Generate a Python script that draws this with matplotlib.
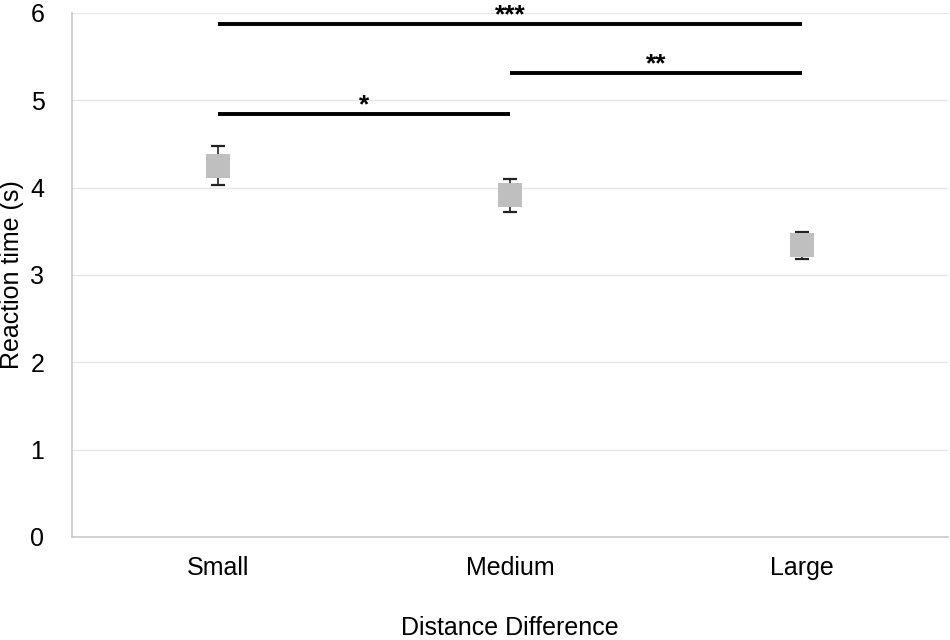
import matplotlib.pyplot as plt
import numpy as np

plt.rcParams['font.family'] = ['Liberation Sans', 'DejaVu Sans']

categories = ['Small', 'Medium', 'Large']
means = [4.25, 3.91, 3.34]
errors = [0.22, 0.19, 0.155]

# significance brackets: (from index, to index, height, label)
sig_from = [0, 1, 0]
sig_to = [1, 2, 2]
sig_y = [4.84, 5.31, 5.87]
sig_labels = ['*', '**', '***']

fig = plt.figure(figsize=(9.5, 6.4), dpi=100)
ax = fig.add_axes([0.076, 0.161, 0.922, 0.819])

x = np.arange(len(categories))
ax.errorbar(x, means, yerr=errors, fmt='none', ecolor='#222222',
            elinewidth=1.2, capsize=5, capthick=1.6, zorder=2)
ax.plot(x, means, ls='none', marker='s', markersize=17,
        color='#bfbfbf', markeredgewidth=0, zorder=3)

for a, b, h, lab in zip(sig_from, sig_to, sig_y, sig_labels):
    ax.plot([a, b], [h, h], color='black', lw=2.8, solid_capstyle='butt', zorder=4)
    ax.annotate(lab, xy=((a + b) / 2, h), xytext=(0, 1.5), textcoords='offset points',
                ha='center', va='baseline', fontsize=19, fontweight='bold',
                annotation_clip=False)

ax.set_xlim(-0.5, 2.5)
ax.set_ylim(0, 6)
ax.set_yticks([0, 1, 2, 3, 4, 5, 6])
ax.set_xticks(x)
ax.set_xticklabels(categories)
ax.tick_params(axis='both', length=0, labelsize=18)
ax.tick_params(axis='y', pad=20)
ax.tick_params(axis='x', pad=14)
ax.yaxis.grid(True, color='#e6e6e6', lw=1)
ax.set_axisbelow(True)
for s in ['top', 'right']:
    ax.spines[s].set_visible(False)
for s in ['left', 'bottom']:
    ax.spines[s].set_color('#c8c8c8')
    ax.spines[s].set_linewidth(1.2)

ax.set_xlabel('Distance Difference', fontsize=18)
ax.set_ylabel('Reaction time (s)', fontsize=18)
ax.xaxis.set_label_coords(0.5, -0.174)
ax.yaxis.set_label_coords(-0.0685, 0.5)
ax.xaxis.label.set_va('center')
ax.yaxis.label.set_va('center')

fig.savefig('out.png', dpi=100)
